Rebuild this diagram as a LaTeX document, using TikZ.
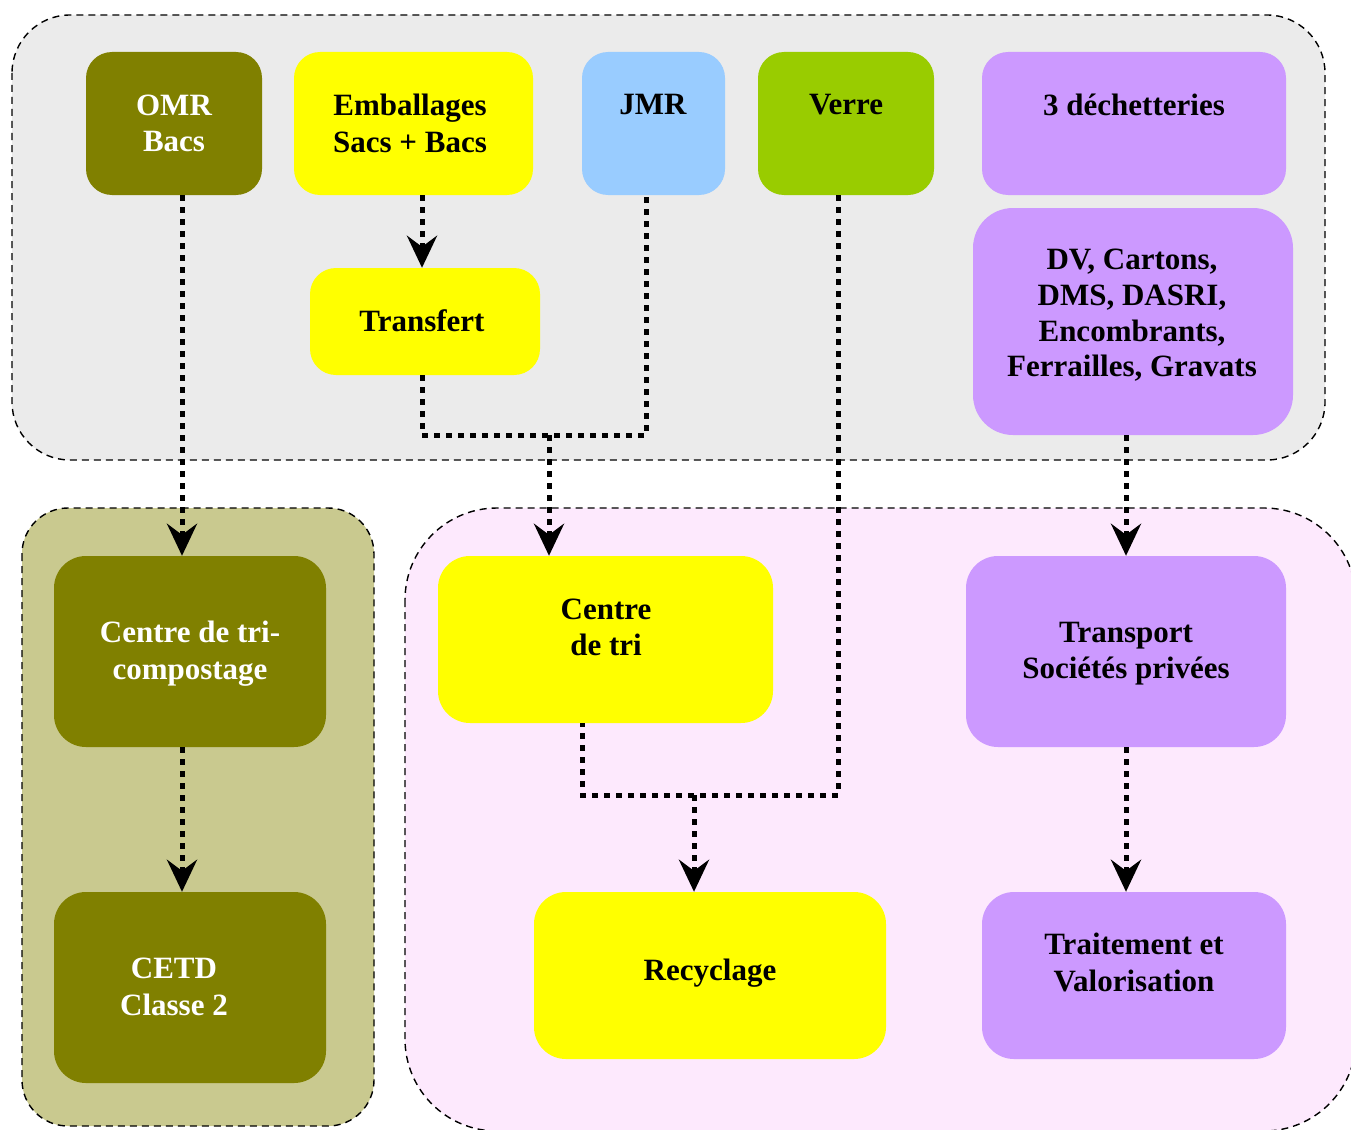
\documentclass[tikz,border=0pt]{standalone}
\usepackage{fontspec}
\setmainfont{Liberation Serif}
\usetikzlibrary{arrows.meta,calc}
\definecolor{olv}{HTML}{808000}
\definecolor{yel}{HTML}{FFFF00}
\definecolor{jmrc}{HTML}{99CCFF}
\definecolor{verc}{HTML}{99CC00}
\definecolor{purp}{HTML}{CC99FF}
\definecolor{panelgray}{HTML}{EBEBEB}
\definecolor{panelolive}{HTML}{C9C98F}
\definecolor{panelpink}{HTML}{FDE9FD}
\tikzset{
  panel/.style={draw=black, line width=1.4pt, dash pattern=on 7pt off 5pt},
  box/.style={fill=#1, draw=none, rounded corners=26pt, inner sep=0pt},
  lbl/.style={align=center, inner sep=0pt, font=\fontsize{31}{36.5}\selectfont\bfseries, text=#1},
  lbl/.default=black,
  flow/.style={line width=5pt, dash pattern=on 6pt off 6pt},
  flowar/.style={flow, -{Stealth[length=32pt,width=30pt,inset=11pt]}}
}
\begin{document}
\begin{tikzpicture}[x=1pt,y=-1pt]
\useasboundingbox (0,0) rectangle (1351,1129);
% panels
\begin{scope}
\clip (0,0) rectangle (1351,1129);
\draw[panel, fill=panelgray, rounded corners=58pt] (12,15) rectangle (1325,460);
\draw[panel, fill=panelolive, rounded corners=46pt] (22,508) rectangle (374,1126);
\draw[panel, fill=panelpink, rounded corners=92pt] (405,508) rectangle (1356,1131);
\end{scope}
% boxes
\node[box=olv, minimum width=176pt, minimum height=143pt] (omr) at (174,123.5) {};
\node[box=yel, minimum width=239pt, minimum height=143pt] (emb) at (413.5,123.5) {};
\node[box=jmrc, minimum width=143pt, minimum height=143pt] (jmr) at (653.5,123.5) {};
\node[box=verc, minimum width=176pt, minimum height=143pt] (verre) at (846,123.5) {};
\node[box=purp, minimum width=304pt, minimum height=143pt] (dech) at (1134,123.5) {};
\node[box=yel, minimum width=230pt, minimum height=107pt] (tr) at (425,321.5) {};
\node[box=purp, rounded corners=40pt, minimum width=320pt, minimum height=227pt] (dv) at (1133,321.5) {};
\node[box=olv, rounded corners=32pt, minimum width=272pt, minimum height=191pt] (ctc) at (190,651.5) {};
\node[box=olv, rounded corners=32pt, minimum width=272pt, minimum height=191pt] (cetd) at (190,987.5) {};
\node[box=yel, rounded corners=32pt, minimum width=335pt, minimum height=167pt] (ctri) at (605.5,639.5) {};
\node[box=yel, rounded corners=32pt, minimum width=352pt, minimum height=167pt] (recy) at (710,975.5) {};
\node[box=purp, rounded corners=32pt, minimum width=320pt, minimum height=191pt] (tsp) at (1126,651.5) {};
\node[box=purp, rounded corners=32pt, minimum width=304pt, minimum height=167pt] (trait) at (1134,975.5) {};
% labels
\node[lbl=white] (omr-t) at (174,123.5) {OMR\\Bacs};
\node[lbl] (emb-t) at (410,123.5) {Emballages\\Sacs + Bacs};
\node[lbl] (jmr-t) at (653,105) {JMR};
\node[lbl] (verre-t) at (846,105) {Verre};
\node[lbl] (dech-t) at (1134,105) {3 déchetteries};
\node[lbl] (tr-t) at (422,321) {Transfert};
\node[lbl, font=\fontsize{31}{35.7}\selectfont\bfseries] (dv-t) at (1132,315.5) {DV, Cartons,\\DMS, DASRI,\\Encombrants,\\Ferrailles, Gravats};
\node[lbl=white] (ctc-t) at (190,653.5) {Centre de tri-\\compostage};
\node[lbl=white] (cetd-t) at (174,987) {CETD\\Classe 2};
\node[lbl] (ctri-t) at (606,627.5) {Centre\\de tri};
\node[lbl] (recy-t) at (710,973) {Recyclage};
\node[lbl] (tsp-t) at (1126,653.5) {Transport\\Sociétés privées};
\node[lbl] (trait-t) at (1134,962.5) {Traitement et\\Valorisation};
% junctions
\coordinate (j1) at (549,435);
\coordinate (j2) at (694,795);
% connectors
\draw[flowar] ([xshift=8pt]omr.south) -- ([xshift=-8pt]ctc.north);
\draw[flowar] ([xshift=-8pt]ctc.south) -- ([xshift=-8pt]cetd.north);
\draw[flowar] ([xshift=8.5pt]emb.south) -- ([xshift=-3pt]tr.north);
\draw[flow] ([xshift=-3pt]tr.south) |- (j1) -| ([xshift=-7.5pt]jmr.south);
\draw[flowar] (j1) -- (j1 |- ctri.north);
\draw[flow] ([xshift=-8pt]verre.south) |- (j2) -| ([xshift=-23.5pt]ctri.south);
\draw[flowar] (j2) -- (j2 |- recy.north);
\draw[flowar] (dv.south -| tsp.north) -- (tsp.north);
\draw[flowar] (tsp.south) -- (tsp.south |- trait.north);
\end{tikzpicture}
\end{document}
